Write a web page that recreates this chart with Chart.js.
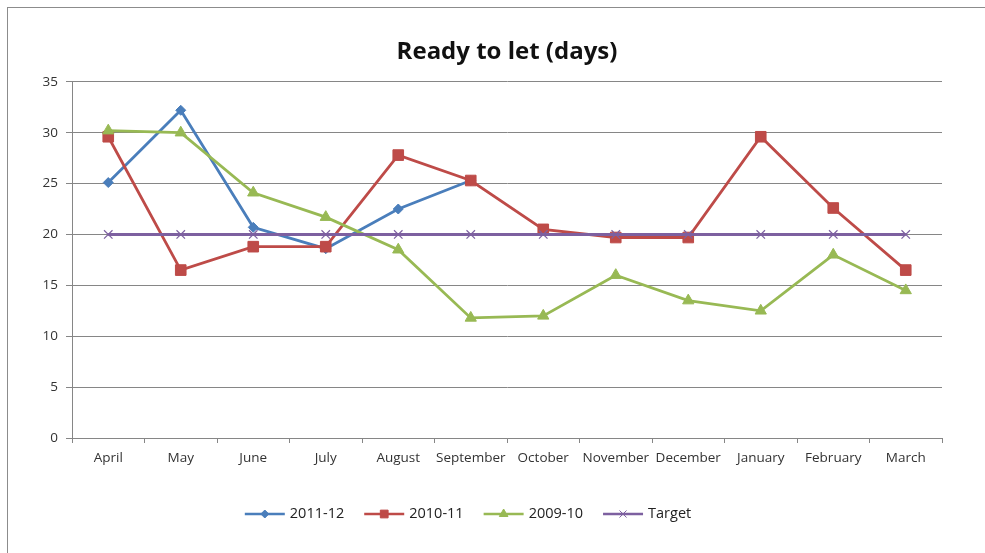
<!DOCTYPE html>
<html><head><meta charset="utf-8">
<script src="https://cdn.jsdelivr.net/npm/chart.js@4"></script>
<style>
html,body{margin:0;padding:0;background:#fff;overflow:hidden;width:985px;height:553px}
#frame{position:absolute;left:7px;top:7px;width:1000px;height:600px;border-left:1.5px solid #8c8c8c;border-top:1.5px solid #8c8c8c;}
canvas{position:absolute;left:0;top:0}
</style></head><body>
<div id="frame"></div>
<canvas id="c" width="985" height="553"></canvas>
<script>
const months = ['April','May','June','July','August','September','October','November','December','January','February','March'];
const yTicks = [0,5,10,15,20,25,30,35];
const s2011_12 = [25.1, 32.2, 20.7, 18.6, 22.5, 25.3, null, null, null, null, null, null];
const s2010_11 = [29.6, 16.5, 18.8, 18.8, 27.8, 25.3, 20.5, 19.7, 19.7, 29.6, 22.6, 16.5];
const s2009_10 = [30.2, 30.0, 24.1, 21.7, 18.5, 11.8, 12.0, 16.0, 13.5, 12.5, 18.0, 14.5];
const target   = [20, 20, 20, 20, 20, 20, 20, 20, 20, 20, 20, 20];

const FONT = '"Open Sans", "Liberation Sans", sans-serif';

const lineLegend = {
  id: 'lineLegend',
  afterDraw(chart) {
    const ctx = chart.ctx;
    const y = 514;
    ctx.save();
    ctx.font = '14.5px ' + FONT;
    ctx.textBaseline = 'middle';
    ctx.textAlign = 'left';
    const lineW = 40, gap = 5, spacing = 20;
    const items = chart.data.datasets.map(d => ({ d, w: lineW + gap + ctx.measureText(d.label).width }));
    const total = items.reduce((a, b) => a + b.w, 0) + spacing * (items.length - 1);
    let x = 468 - total / 2;
    items.forEach(({ d, w }) => {
      ctx.strokeStyle = d.borderColor;
      ctx.lineWidth = 2.5;
      ctx.beginPath();
      ctx.moveTo(x, y); ctx.lineTo(x + lineW, y);
      ctx.stroke();
      ctx.fillStyle = d.pointBackgroundColor;
      ctx.strokeStyle = d.pointBorderColor;
      ctx.lineWidth = 1;
      Chart.helpers.drawPoint(ctx, { pointStyle: d.pointStyle, radius: d.legendRadius, rotation: 0, borderWidth: 1 }, x + lineW / 2, y);
      ctx.fillStyle = '#222';
      ctx.fillText(d.label, x + lineW + gap, y);
      x += w + spacing;
    });
    ctx.restore();
  }
};

function ds(label, data, color, style, radius, legendRadius, order, extra) {
  return Object.assign({
    label, data,
    borderColor: color,
    backgroundColor: color,
    pointBackgroundColor: color,
    pointBorderColor: color,
    pointStyle: style,
    pointRadius: radius,
    pointHoverRadius: radius,
    pointBorderWidth: 1,
    borderWidth: 2.8,
    tension: 0,
    spanGaps: false,
    legendRadius,
    order
  }, extra || {});
}

new Chart(document.getElementById('c'), {
  type: 'line',
  data: {
    labels: months,
    datasets: [
      ds('2011-12', s2011_12, '#4A7EBB', 'rectRot', 5, 4, 3),
      ds('2010-11', s2010_11, '#BE4B48', 'rect', 7.5, 5.5, 2),
      ds('2009-10', s2009_10, '#98B954', 'triangle', 6.5, 5, 1),
      ds('Target', target, '#7D60A0', 'crossRot', 6, 5, 0, { pointBackgroundColor: 'rgba(0,0,0,0)', pointBorderColor: '#7D60A0', pointBorderWidth: 1.2, borderWidth: 3 })
    ]
  },
  options: {
    responsive: false,
    animation: false,
    events: [],
    layout: { padding: { left: 20, right: 43, top: 16, bottom: 75 } },
    plugins: {
      legend: { display: false },
      tooltip: { enabled: false },
      title: {
        display: true,
        fullSize: false,
        text: 'Ready to let (days)',
        color: '#111',
        font: { family: FONT, size: 24, weight: 'bold', lineHeight: 1.2 },
        padding: { top: 22, bottom: 15 }
      }
    },
    scales: {
      x: {
        offset: true,
        grid: { offset: true, drawOnChartArea: false, drawTicks: true, tickLength: 5, color: '#868686' },
        border: { display: true, color: '#868686', width: 1 },
        ticks: { color: '#333', font: { family: FONT, size: 13.5 }, padding: 7, maxRotation: 0, autoSkip: false },
        afterFit(s) { s.height = 40; }
      },
      y: {
        min: 0, max: 35,
        afterBuildTicks(s) { s.ticks = yTicks.map(v => ({ value: v })); },
        grid: { color: '#868686', lineWidth: 1, drawTicks: true, tickLength: 6 },
        border: { display: true, color: '#868686', width: 1 },
        ticks: { color: '#333', font: { family: FONT, size: 13.5 }, padding: 8 },
        afterFit(s) { s.width = 52; }
      }
    }
  },
  plugins: [lineLegend]
});
</script>
</body></html>
